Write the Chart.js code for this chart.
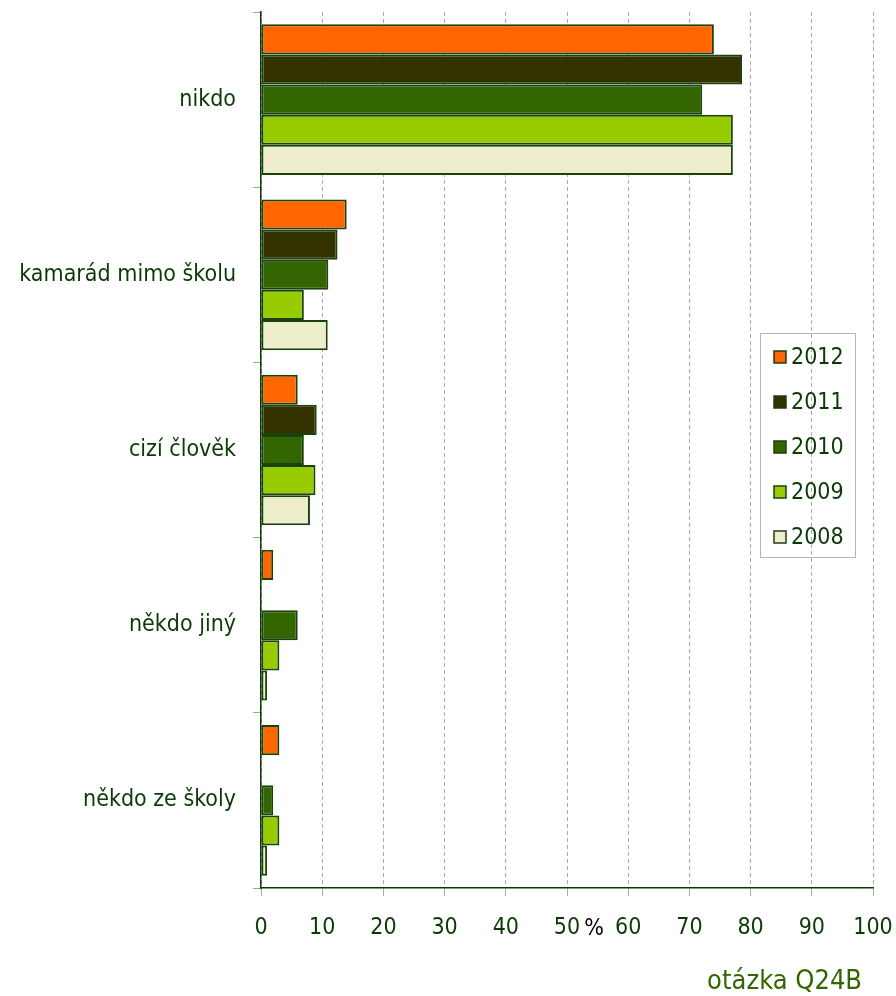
<!DOCTYPE html>
<html>
<head>
<meta charset="utf-8">
<script src="https://cdn.jsdelivr.net/npm/chart.js@4.4.1/dist/chart.umd.min.js"></script>
<style>
  html, body { margin: 0; padding: 0; background: #fff; }
  #wrap { width: 896px; height: 996px; position: relative; }
</style>
</head>
<body>
<div id="wrap"><canvas id="chart" width="896" height="996"></canvas></div>
<script>
// data
const categories = ["nikdo", "kamarád mimo školu", "cizí člověk", "někdo jiný", "někdo ze školy"];
const years = ["2012", "2011", "2010", "2009", "2008"];
const v2012 = [74, 14, 6, 2, 3];
const v2011 = [78.6, 12.5, 9.1, null, null];
const v2010 = [72.1, 11, 7, 6, 2];
const v2009 = [77.1, 7, 8.9, 3, 3];
const v2008 = [77.1, 10.9, 8, 1, 1];
const xMin = 0, xMax = 100, xStep = 10;
const unitLabel = "%";
const noteText = "otázka Q24B";

const colors = ["#ff6600", "#333300", "#336600", "#99cc00", "#eeeecc"];
const series = [v2012, v2011, v2010, v2009, v2008];
const txtColor = "#0b3a06";
const font = "'DejaVu Sans Condensed', 'DejaVu Sans', Verdana, sans-serif";

// legend box + "%" + note
const extras = {
    id: "extras",
    afterDraw(chart) {
        const ctx = chart.ctx;
        const xs = chart.scales.x;
        ctx.save();
        // legend
        ctx.strokeStyle = "#b5b5b5";
        ctx.lineWidth = 1;
        ctx.strokeRect(760.5, 333.5, 95, 224);
        ctx.font = "23px " + font;
        ctx.textBaseline = "middle";
        ctx.textAlign = "left";
        chart.data.datasets.forEach((ds, i) => {
            const y = 357 + i * 45;
            ctx.fillStyle = ds.backgroundColor;
            ctx.fillRect(774, y - 6, 12, 12);
            ctx.strokeStyle = "#1f3f0f";
            ctx.lineWidth = 1.5;
            ctx.strokeRect(774, y - 6, 12, 12);
            ctx.fillStyle = txtColor;
            ctx.fillText(ds.label, 791, y + 1);
        });
        // unit label next to 50
        ctx.fillStyle = "#000";
        ctx.textAlign = "center";
        ctx.fillText(unitLabel, xs.getPixelForValue(50) + 27, 929);
        // note
        ctx.fillStyle = "#336600";
        ctx.font = "27px " + font;
        ctx.textAlign = "right";
        ctx.textBaseline = "alphabetic";
        ctx.fillText(noteText, 862, 989);
        ctx.restore();
    }
};

function noPad(scale) {
    scale.paddingTop = 0;
    scale.paddingBottom = 0;
    scale.paddingLeft = 0;
    scale.paddingRight = 0;
}

new Chart(document.getElementById("chart"), {
    type: "bar",
    data: {
        labels: categories,
        datasets: years.map((y, i) => ({
            label: y,
            data: series[i],
            backgroundColor: colors[i],
            borderColor: "#1a420c",
            borderWidth: 2,
            borderSkipped: false,
            categoryPercentage: 0.86,
            barPercentage: 1,
        })),
    },
    options: {
        indexAxis: "y",
        responsive: false,
        animation: false,
        layout: { padding: { top: 12, right: 23, left: 0, bottom: 0 } },
        plugins: {
            legend: { display: false },
            tooltip: { enabled: false },
        },
        scales: {
            x: {
                min: xMin,
                max: xMax,
                ticks: {
                    stepSize: xStep,
                    color: txtColor,
                    font: { family: font, size: 23 },
                    padding: 18,
                    maxRotation: 0,
                },
                grid: {
                    color: "#aaaaaa",
                    tickColor: "#aaaaaa",
                    tickLength: 8,
                    lineWidth: 1,
                    tickBorderDash: [],
                },
                border: { color: "#0b3a06", width: 1.5, dash: [4, 3] },
                afterFit(scale) { scale.height = 108; noPad(scale); },
            },
            y: {
                ticks: {
                    color: txtColor,
                    font: { family: font, size: 23 },
                    padding: 17,
                },
                grid: {
                    offset: true,
                    drawOnChartArea: false,
                    tickColor: "#9aaa9a",
                    tickLength: 8,
                },
                border: { color: "#0b3a06", width: 1.5 },
                afterFit(scale) { scale.width = 261; noPad(scale); },
            },
        },
    },
    plugins: [extras],
});
</script>
</body>
</html>
